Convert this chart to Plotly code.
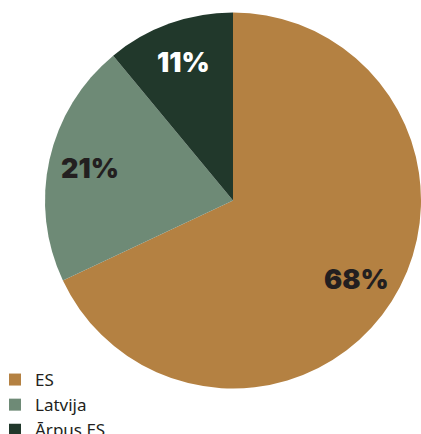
import math
import plotly.graph_objects as go

labels = ["ES", "Latvija", "Ārpus ES"]
values = [68, 21, 11]
colors = ["#B48142", "#6E8A76", "#21382B"]
text_colors = ["#231F20", "#231F20", "#FFFFFF"]

W, H = 421, 434
cx, cy, r = 233, 200.5, 188

fig = go.Figure(go.Pie(
    labels=labels,
    values=values,
    sort=False,
    direction="clockwise",
    rotation=0,
    marker=dict(colors=colors, line=dict(width=0)),
    textinfo="none",
    domain=dict(x=[(cx - r) / W, (cx + r) / W], y=[(H - cy - r) / H, (H - cy + r) / H]),
    hoverinfo="label+percent",
))

# percentage labels placed at each slice's mid-angle, derived from the values
total = sum(values)
cum = 0
annotations = []
for v, tc in zip(values, text_colors):
    mid = (cum + v / 2) / total * 2 * math.pi
    cum += v
    rr = 0.78 * r
    px = cx + rr * math.sin(mid)
    py = cy - rr * math.cos(mid)
    annotations.append(dict(
        x=px / W, y=1 - py / H, xref="paper", yref="paper",
        text=f"{round(v / total * 100)}%", showarrow=False,
        font=dict(family="Inter", size=27, color=tc, weight=900),
        xanchor="center", yanchor="middle",
    ))

fig.update_layout(
    width=W, height=H,
    margin=dict(l=0, r=0, t=0, b=0, autoexpand=False),
    paper_bgcolor="white",
    plot_bgcolor="white",
    showlegend=True,
    annotations=annotations,
    legend=dict(
        x=-5 / W, xanchor="left",
        y=(H - 362) / H, yanchor="top",
        font=dict(family="Noto Sans", size=17, color="#231F20"),
        bgcolor="rgba(0,0,0,0)",
        tracegroupgap=0,
        itemwidth=30,
    ),
)

fig.write_html(
    "out.html",
    config={"displayModeBar": False},
    post_script="document.body.style.margin='0px';document.body.style.overflow='hidden';",
)
